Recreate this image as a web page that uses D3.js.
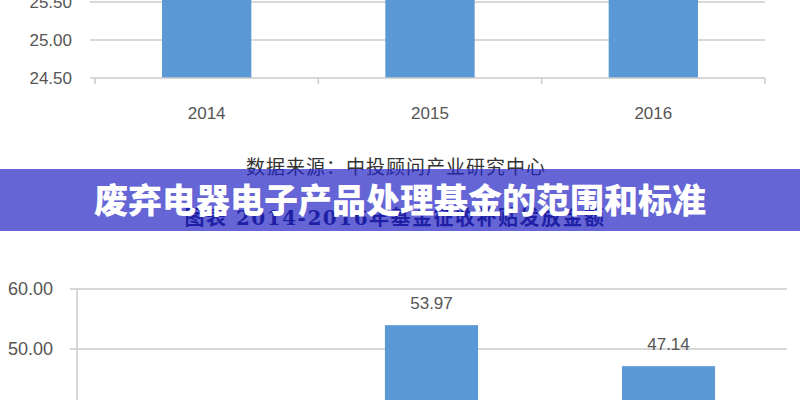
<!DOCTYPE html>
<html><head><meta charset="utf-8">
<script src="https://cdn.jsdelivr.net/npm/d3@7"></script>
<style>html,body{margin:0;padding:0;background:#fff;}svg{display:block;}</style>
</head><body>
<svg id="c" width="800" height="400"></svg>
<script>
// Top chart (partially visible): fund values, y axis 24.50-25.50
const topCategories = ["2014", "2015", "2016"];
const topValues = [27.5, 27.0, 27.2];          // bars run above the visible area
const topTicks = [24.5, 25.0, 25.5];
// Bottom chart (partially visible)
const botCategories = ["2014", "2015", "2016"];
const botValues = [33.0, 53.97, 47.14];        // 2014 bar is below the visible area
const botTicks = [40, 50, 60];
const sourceText = "数据来源：中投顾问产业研究中心";
const subtitleText = "图表   2014-2016年基金征收补贴发放金额";
const titleText = "废弃电器电子产品处理基金的范围和标准";

const svg = d3.select("#c");
const barColor = "#5a98d6";
const gridColor = "#cbcbcb";
const labelColor = "#555";
const numFont = "'Liberation Sans', Arial, sans-serif";

// ---------- TOP CHART ----------
const xT = d3.scaleBand().domain(topCategories).range([95, 765]).paddingInner(0.6).paddingOuter(0.3);
const yT = d3.scaleLinear().domain([24.5, 25.5]).range([78, 2]);
const gT = svg.append("g");
gT.selectAll("line.grid").data(topTicks.slice(1)).join("line")
  .attr("x1", 90).attr("x2", 765).attr("y1", d => yT(d)).attr("y2", d => yT(d))
  .attr("stroke", gridColor).attr("stroke-width", 1.5);
gT.selectAll("rect").data(topValues).join("rect")
  .attr("x", (d, i) => xT(topCategories[i])).attr("width", xT.bandwidth())
  .attr("y", d => yT(d)).attr("height", d => yT(24.5) - yT(d))
  .attr("fill", barColor);
gT.append("line").attr("x1", 90).attr("x2", 765).attr("y1", yT(24.5)).attr("y2", yT(24.5))
  .attr("stroke", gridColor).attr("stroke-width", 1.5);
const bandEdgesT = [xT.range()[0]].concat(topCategories.map((c, i) => xT.range()[0] + xT.step() * (i + 1)));
gT.selectAll("line.tick").data(bandEdgesT).join("line")
  .attr("x1", d => d).attr("x2", d => d).attr("y1", yT(24.5)).attr("y2", yT(24.5) + 6)
  .attr("stroke", gridColor).attr("stroke-width", 1.5);
gT.selectAll("text.yl").data(topTicks).join("text")
  .attr("x", 72).attr("y", d => yT(d)).attr("dy", "0.36em").attr("text-anchor", "end")
  .attr("font-family", numFont).attr("font-size", 17).attr("fill", labelColor)
  .text(d => d3.format(".2f")(d));
gT.selectAll("text.xl").data(topCategories).join("text")
  .attr("x", d => xT(d) + xT.bandwidth() / 2).attr("y", 119).attr("text-anchor", "middle")
  .attr("font-family", numFont).attr("font-size", 17).attr("fill", labelColor)
  .text(d => d);

// ---------- SOURCE + SUBTITLE ----------
svg.append("text").attr("x", 396).attr("y", 174).attr("text-anchor", "middle")
  .attr("font-family", "'Noto Sans CJK SC', sans-serif").attr("font-size", 19).attr("letter-spacing", 1)
  .attr("fill", "#333").text(sourceText);
svg.append("text").attr("x", 395).attr("y", 225).attr("text-anchor", "middle")
  .attr("font-family", "'DejaVu Serif', 'Noto Sans CJK SC', serif").attr("font-size", 20).attr("font-weight", "bold")
  .attr("letter-spacing", 1.5).attr("fill", "#14145a").text(subtitleText);

// ---------- BANNER ----------
svg.append("rect").attr("x", 0).attr("y", 169).attr("width", 800).attr("height", 62)
  .attr("fill", "rgb(36,36,196)").attr("fill-opacity", 0.7);
svg.append("text").attr("x", 400).attr("y", 213).attr("text-anchor", "middle")
  .attr("font-family", "'Noto Sans CJK SC', sans-serif").attr("font-size", 34).attr("font-weight", 900)
  .attr("fill", "#fff").text(titleText);

// ---------- BOTTOM CHART ----------
const xB = d3.scaleBand().domain(botCategories).range([76, 787]).paddingInner(0.607).paddingOuter(0.3035);
const yB = d3.scaleLinear().domain([40, 60]).range([409, 289]);
const gB = svg.append("g");
gB.selectAll("line.grid").data(botTicks).join("line")
  .attr("x1", 70).attr("x2", 787).attr("y1", d => yB(d)).attr("y2", d => yB(d))
  .attr("stroke", gridColor).attr("stroke-width", 1.5);
gB.append("line").attr("x1", 77).attr("x2", 77).attr("y1", yB(60)).attr("y2", 410)
  .attr("stroke", gridColor).attr("stroke-width", 1.5);
gB.selectAll("rect").data(botValues).join("rect")
  .attr("x", (d, i) => xB(botCategories[i])).attr("width", xB.bandwidth())
  .attr("y", d => yB(d)).attr("height", d => Math.max(0, 420 - yB(d)))
  .attr("fill", barColor);
gB.selectAll("text.v").data(botValues).join("text")
  .attr("x", (d, i) => xB(botCategories[i]) + xB.bandwidth() / 2).attr("y", d => yB(d) - 16)
  .attr("text-anchor", "middle").attr("font-family", numFont).attr("font-size", 17).attr("fill", labelColor)
  .text(d => d3.format(".2f")(d));
gB.selectAll("text.yl").data(botTicks).join("text")
  .attr("x", 53).attr("y", d => yB(d)).attr("dy", "0.36em").attr("text-anchor", "end")
  .attr("font-family", numFont).attr("font-size", 18).attr("fill", labelColor)
  .text(d => d3.format(".2f")(d));
</script>
</body></html>
